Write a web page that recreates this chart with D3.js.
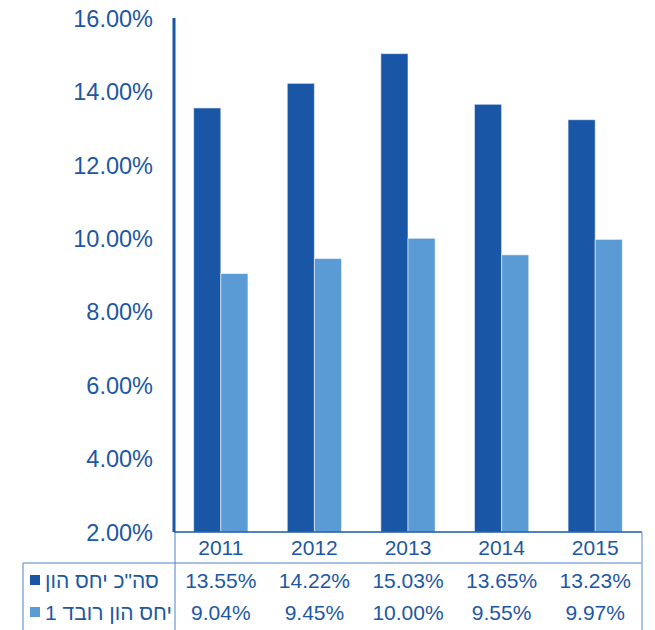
<!DOCTYPE html>
<html>
<head>
<meta charset="utf-8">
<script src="https://cdn.jsdelivr.net/npm/d3@7"></script>
<style>
  html, body { margin: 0; padding: 0; background: #fff; }
  svg { display: block; font-family: "Liberation Sans", Arial, sans-serif; }
</style>
</head>
<body>
<svg id="chart" width="655" height="630"></svg>
<script>
const years = ["2011", "2012", "2013", "2014", "2015"];
const seriesNames = ["סה\"כ יחס הון", "יחס הון רובד 1"];
const totalRatio = [13.55, 14.22, 15.03, 13.65, 13.23];
const tier1Ratio = [9.04, 9.45, 10.00, 9.55, 9.97];
const yTicks = [2, 4, 6, 8, 10, 12, 14, 16];
const colors = ["#1957A6", "#5B9BD5"];
const textColor = "#1D57A3";
const lineColor = "#4F83C6";

const svg = d3.select("#chart");
const plot = { left: 174, right: 642, top: 18, bottom: 532 };
const table = { left: 23, right: 642, row0: 532, row1: 563, bottom: 630 };

const y = d3.scaleLinear().domain([2, 16]).range([plot.bottom, plot.top]);
const x = d3.scaleBand().domain(years).range([plot.left, plot.right])
  .paddingInner(0.42).paddingOuter(0.21);
const xs = d3.scaleBand().domain([0, 1]).range([0, x.bandwidth()]);

const series = [totalRatio, tier1Ratio];

// bars
series.forEach((vals, si) => {
  svg.append("g").selectAll("rect").data(vals).join("rect")
    .attr("x", (d, i) => x(years[i]) + xs(si))
    .attr("y", d => y(d))
    .attr("width", xs.bandwidth())
    .attr("height", d => y(2) - y(d))
    .attr("fill", colors[si])
    .attr("stroke", "rgba(255,255,255,0.55)")
    .attr("stroke-width", 1);
});

// y axis
const yAxis = d3.axisLeft(y).tickValues(yTicks).tickSize(0).tickPadding(21)
  .tickFormat(d => d3.format(".2f")(d) + "%");
const gy = svg.append("g").attr("transform", `translate(${plot.left},0)`).call(yAxis);
gy.select(".domain").remove();
gy.selectAll("text").attr("fill", textColor).attr("font-size", "23.5px")
  .attr("font-family", "'Liberation Sans', Arial, sans-serif").attr("dy", "0.35em");
svg.append("line").attr("x1", plot.left).attr("x2", plot.left)
  .attr("y1", plot.top).attr("y2", plot.bottom)
  .attr("stroke", colors[0]).attr("stroke-width", 3);

// x axis (years)
const xAxis = d3.axisBottom(x).tickSize(0).tickPadding(8);
const gx = svg.append("g").attr("transform", `translate(0,${plot.bottom})`).call(xAxis);
gx.select(".domain").remove();
gx.selectAll("text").attr("fill", textColor).attr("font-size", "21px")
  .attr("font-family", "'Liberation Sans', Arial, sans-serif")
  .attr("y", 16).attr("dy", "0.35em");

// table lines
const lines = [
  [plot.left, plot.bottom, table.right, plot.bottom, colors[0], 1.5],
  [table.left, table.row1, table.right, table.row1, lineColor, 1],
  [table.left, table.row1, table.left, table.bottom, lineColor, 1],
  [plot.left + 1, table.row0, plot.left + 1, table.bottom, lineColor, 1],
  [table.right, table.row0, table.right, table.bottom, "#8FB0DC", 1.5]
];
svg.append("g").selectAll("line").data(lines).join("line")
  .attr("x1", d => d[0]).attr("y1", d => d[1]).attr("x2", d => d[2]).attr("y2", d => d[3])
  .attr("stroke", d => d[4]).attr("stroke-width", d => d[5]);

// table rows
const rowY = [581, 613];
series.forEach((vals, si) => {
  const g = svg.append("g");
  g.append("rect").attr("x", 30).attr("y", rowY[si] - 6).attr("width", 10).attr("height", 10)
    .attr("fill", colors[si]);
  g.append("text").attr("x", 45).attr("y", rowY[si]).attr("dy", "0.35em")
    .attr("text-anchor", "start").attr("fill", textColor).attr("font-size", "21px")
    .text(seriesNames[si]);
  g.selectAll("text.v").data(vals).join("text").attr("class", "v")
    .attr("x", (d, i) => x(years[i]) + x.bandwidth() / 2)
    .attr("y", rowY[si]).attr("dy", "0.35em")
    .attr("text-anchor", "middle").attr("fill", textColor).attr("font-size", "21px")
    .text(d => d3.format(".2f")(d) + "%");
});
</script>
</body>
</html>
